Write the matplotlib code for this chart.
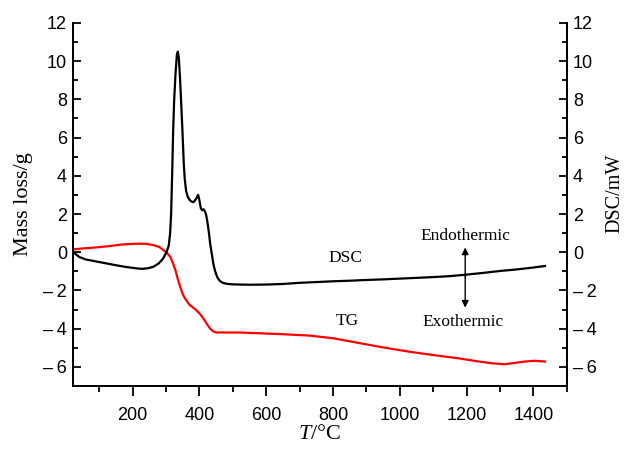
import matplotlib
matplotlib.use("Agg")
import matplotlib.pyplot as plt
from matplotlib.ticker import FixedLocator, MultipleLocator, FuncFormatter

plt.rcParams['mathtext.fontset'] = 'custom'
plt.rcParams['mathtext.it'] = 'Liberation Serif:italic'
plt.rcParams['mathtext.rm'] = 'Liberation Serif'

# ---- data ----
dsc_T = [22, 40, 60, 90, 120, 150, 180, 210, 228, 248, 263, 278, 291, 301, 308,
         312, 315, 318, 321, 324, 328, 332, 335, 338, 342, 346, 350, 353, 356,
         360, 365, 370, 376, 382, 388, 393, 396, 400, 404, 408, 412, 416, 420,
         424, 428, 432, 437, 442, 447, 453, 461, 470, 481, 500, 520, 550, 600,
         650, 700, 750, 800, 850, 900, 950, 1000, 1050, 1100, 1150, 1200, 1250,
         1300, 1350, 1400, 1435]
dsc_val = [0.0, -0.25, -0.38, -0.48, -0.58, -0.68, -0.77, -0.84, -0.87, -0.83,
           -0.75, -0.58, -0.33, 0.0, 0.35, 1.0, 2.0, 4.0, 6.3, 7.9, 9.3, 10.3,
           10.5, 10.2, 9.0, 7.5, 5.9, 4.6, 3.8, 3.2, 2.9, 2.75, 2.65, 2.62,
           2.75, 2.9, 3.0, 2.7, 2.3, 2.2, 2.25, 2.15, 1.95, 1.55, 1.05, 0.45,
           -0.1, -0.65, -1.0, -1.3, -1.5, -1.6, -1.65, -1.68, -1.69, -1.7,
           -1.69, -1.66, -1.6, -1.56, -1.52, -1.49, -1.45, -1.42, -1.38, -1.34,
           -1.3, -1.25, -1.17, -1.08, -0.98, -0.9, -0.8, -0.72]

tg_T = [22, 50, 75, 100, 130, 164, 200, 223, 245, 263, 280, 293, 303, 313, 320,
        328, 335, 342, 350, 357, 370, 387, 400, 412, 422, 432, 442, 452, 480,
        520, 580, 650, 729, 800, 878, 950, 1027, 1100, 1176, 1230, 1275, 1315,
        1340, 1374, 1404, 1435]
tg_val = [0.15, 0.2, 0.23, 0.27, 0.32, 0.4, 0.44, 0.45, 0.43, 0.37, 0.27, 0.1,
          -0.05, -0.25, -0.55, -0.94, -1.4, -1.8, -2.2, -2.43, -2.75, -2.98,
          -3.2, -3.47, -3.75, -4.0, -4.15, -4.2, -4.2, -4.2, -4.24, -4.29,
          -4.36, -4.5, -4.75, -4.98, -5.2, -5.38, -5.55, -5.7, -5.81, -5.86,
          -5.8, -5.72, -5.68, -5.72]

x_ticks = [200, 400, 600, 800, 1000, 1200, 1400]
y_ticks = [-6, -4, -2, 0, 2, 4, 6, 8, 10, 12]

SANS = ['Liberation Sans', 'DejaVu Sans']
SERIF = ['Liberation Serif', 'DejaVu Serif']

fig = plt.figure(figsize=(6.25, 4.51), dpi=100)
ax = fig.add_axes([0.1173, 0.1441, 0.7894, 0.805])
ax2 = ax.twinx()

ax.plot(tg_T, tg_val, color='#ff0000', lw=1.6, zorder=3)
ax2.plot(dsc_T, dsc_val, color='black', lw=1.6, zorder=3)

for a in (ax, ax2):
    a.set_xlim(22, 1500)
    a.set_ylim(-7, 12)
    a.spines['top'].set_visible(False)
    for s in a.spines.values():
        s.set_linewidth(1.3)

def fmt(v, pos):
    v = int(round(v))
    return ("\u2013\u2009%d" % abs(v)) if v < 0 else "%d" % v

ax.xaxis.set_major_locator(FixedLocator(x_ticks))
ax.xaxis.set_minor_locator(MultipleLocator(100))
ax.yaxis.set_major_locator(FixedLocator(y_ticks))
ax.yaxis.set_minor_locator(MultipleLocator(1))
ax2.yaxis.set_major_locator(FixedLocator(y_ticks))
ax2.yaxis.set_minor_locator(MultipleLocator(1))
ax.yaxis.set_major_formatter(FuncFormatter(fmt))
ax2.yaxis.set_major_formatter(FuncFormatter(fmt))

ax.tick_params(axis='x', which='major', direction='out', length=7, width=1.3,
               pad=8, labelsize=13)
ax.tick_params(axis='x', which='minor', direction='out', length=4, width=1.3)
ax.tick_params(axis='y', which='major', direction='in', length=6, width=1.3,
               pad=4.5, labelsize=13, right=False)
ax.tick_params(axis='y', which='minor', direction='in', length=3.5, width=1.3, right=False)
ax2.tick_params(axis='y', which='major', direction='in', length=6, width=1.3,
                pad=4.5, labelsize=13)
ax2.tick_params(axis='y', which='minor', direction='in', length=3.5, width=1.3)

for lab in ax.get_xticklabels() + ax.get_yticklabels() + ax2.get_yticklabels():
    lab.set_family(SANS)

ax.set_xlabel(r'$T$/°C', fontsize=16, family=SERIF)
ax.xaxis.set_label_coords(0.5, -0.108)

ax.set_ylabel('Mass loss/g', fontsize=16, family=SERIF)
ax.yaxis.set_label_coords(-0.082, 0.5)
ax2.set_ylabel('DSC/mW', fontsize=14.5, family=SERIF)
ax2.yaxis.set_label_coords(1.078, 0.53)

ax2.text(836, -0.3, 'DSC', fontsize=12.5, family=SERIF, ha='center', va='center')
ax2.text(842, -3.6, 'TG', fontsize=12.5, family=SERIF, ha='center', va='center')
ax2.text(1197, 0.84, 'Endothermic', fontsize=12.5, family=SERIF, ha='center', va='center')
ax2.text(1190, -3.66, 'Exothermic', fontsize=12.5, family=SERIF, ha='center', va='center')
ax2.annotate('', xy=(1196, 0.25), xytext=(1196, -1.3),
             arrowprops=dict(arrowstyle='-|>', color='black', lw=1.0,
                             mutation_scale=10, shrinkA=0, shrinkB=0))
ax2.annotate('', xy=(1196, -2.9), xytext=(1196, -1.3),
             arrowprops=dict(arrowstyle='-|>', color='black', lw=1.0,
                             mutation_scale=10, shrinkA=0, shrinkB=0))

fig.savefig('out.png', dpi=100)
